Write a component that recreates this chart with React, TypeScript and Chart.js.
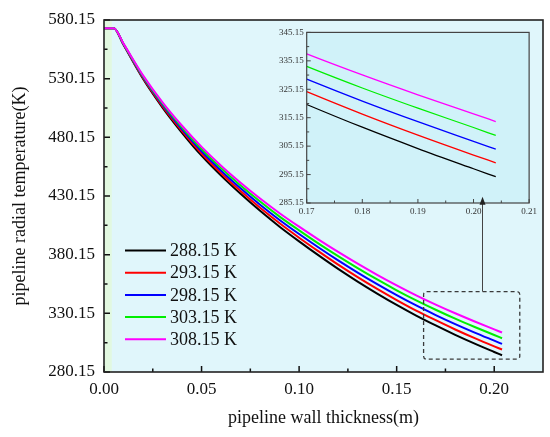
import React, { useEffect, useRef } from 'react';
import { Chart, registerables } from 'chart.js';

Chart.register(...registerables);

// ---- data ----
const thickness = [0, 0.005, 0.01, 0.02, 0.03, 0.04, 0.05, 0.06, 0.07, 0.08, 0.09, 0.1, 0.11, 0.12, 0.13, 0.14, 0.15, 0.16, 0.17, 0.18, 0.19, 0.2, 0.204];
const temp288 = [573.15, 573.15, 559.0, 530.0, 505.5, 484.0, 464.5, 447.5, 432.0, 417.5, 404.0, 391.5, 379.5, 368.0, 357.2, 347.0, 337.3, 328.2, 319.8, 311.8, 304.3, 297.2, 294.4];
const temp293 = [573.15, 573.15, 559.25, 530.75, 506.6, 485.5, 466.4, 449.6, 434.4, 420.1, 406.9, 394.6, 382.9, 371.6, 361.0, 351.0, 341.5, 332.5, 324.3, 316.4, 309.0, 302.0, 299.3];
const temp298 = [573.15, 573.15, 559.5, 531.5, 507.75, 487.0, 468.25, 451.75, 436.75, 422.75, 409.75, 397.75, 386.25, 375.25, 364.85, 355.0, 345.65, 336.85, 328.7, 321.0, 313.75, 306.85, 304.1];
const temp303 = [573.15, 573.15, 559.75, 532.25, 508.9, 488.5, 470.1, 453.9, 439.1, 425.4, 412.6, 400.9, 389.6, 378.9, 368.7, 359.0, 349.8, 341.2, 333.2, 325.6, 318.5, 311.7, 308.9];
const temp308 = [573.15, 573.15, 560.0, 533.0, 510.0, 490.0, 472.0, 456.0, 441.5, 428.0, 415.5, 404.0, 393.0, 382.5, 372.5, 363.0, 354.0, 345.5, 337.6, 330.2, 323.2, 316.5, 313.8];
const seriesLabels = ['288.15 K', '293.15 K', '298.15 K', '303.15 K', '308.15 K'];
const seriesValues = [temp288, temp293, temp298, temp303, temp308];

// axes ranges / ticks
const mainX = { min: 0, max: 0.225, step: 0.05 };
const mainY = { min: 280.15, max: 580.15, step: 50 };
const insetX = { min: 0.17, max: 0.21, step: 0.01 };
const insetY = { min: 285.15, max: 345.15, step: 10 };
const innerWallEnd = 0.004; // green strip
const zoomBoxX = [0.1638, 0.2131];
const zoomBoxT = [291.1, 348.7];
const arrowX = 0.194;
const arrowTipT = 429.5;

// ---- layout / styles ----
const INSET_LEFT = 268;
const INSET_TOP = 24;
const COLORS = ['#000000', '#ff0000', '#0000ff', '#00ee00', '#ff00ff'];
const FONT = "'Liberation Serif', 'Times New Roman', serif";

function makeDatasets(width: number) {
  return seriesValues.map((vals, i) => ({
    label: seriesLabels[i],
    data: thickness.map((x, j) => ({ x, y: vals[j] })),
    borderColor: COLORS[i],
    backgroundColor: COLORS[i],
    borderWidth: width,
    pointRadius: 0,
    cubicInterpolationMode: 'monotone' as const,
    order: seriesValues.length - i,
  }));
}

function drawInwardTicks(chart: any, majorLen: number, minorLen: number, color: string, lw: number) {
  const ctx = chart.ctx;
  const { left, bottom } = chart.chartArea;
  ctx.save();
  ctx.strokeStyle = color;
  ctx.lineWidth = lw;
  const xs = chart.scales.x;
  const ys = chart.scales.y;
  const xt = xs.ticks.map((t: any) => t.value);
  const yt = ys.ticks.map((t: any) => t.value);
  const minor = (arr: number[], max: number) => {
    const out: number[] = [];
    for (let i = 0; i < arr.length; i++) {
      const step = i + 1 < arr.length ? arr[i + 1] - arr[i] : arr[i] - arr[i - 1];
      const m = arr[i] + step / 2;
      if (m < max - 1e-9) out.push(m);
    }
    return out;
  };
  ctx.beginPath();
  xt.forEach((v: number) => {
    const p = xs.getPixelForValue(v);
    ctx.moveTo(p, bottom);
    ctx.lineTo(p, bottom - majorLen);
  });
  minor(xt, xs.max).forEach((v) => {
    const p = xs.getPixelForValue(v);
    ctx.moveTo(p, bottom);
    ctx.lineTo(p, bottom - minorLen);
  });
  yt.forEach((v: number) => {
    const p = ys.getPixelForValue(v);
    ctx.moveTo(left, p);
    ctx.lineTo(left + majorLen, p);
  });
  minor(yt, ys.max).forEach((v) => {
    const p = ys.getPixelForValue(v);
    ctx.moveTo(left, p);
    ctx.lineTo(left + minorLen, p);
  });
  ctx.stroke();
  ctx.restore();
}

const mainPlugin = {
  id: 'mainDecor',
  beforeDraw(chart: any) {
    const ctx = chart.ctx;
    const { left, right, top, bottom } = chart.chartArea;
    ctx.save();
    ctx.fillStyle = '#e0f6fb';
    ctx.fillRect(left, top, right - left, bottom - top);
    const gx = chart.scales.x.getPixelForValue(innerWallEnd);
    ctx.fillStyle = '#e2f8e0';
    ctx.fillRect(left, top, gx - left, bottom - top);
    ctx.restore();
  },
  afterDatasetsDraw(chart: any) {
    const ctx = chart.ctx;
    const xs = chart.scales.x;
    const ys = chart.scales.y;
    // zoom box
    const bx0 = xs.getPixelForValue(zoomBoxX[0]);
    const bx1 = xs.getPixelForValue(zoomBoxX[1]);
    const by0 = ys.getPixelForValue(zoomBoxT[1]);
    const by1 = ys.getPixelForValue(zoomBoxT[0]);
    ctx.save();
    ctx.strokeStyle = '#3a3a3a';
    ctx.lineWidth = 1.3;
    ctx.setLineDash([4, 3]);
    ctx.beginPath();
    if (ctx.roundRect) ctx.roundRect(bx0, by0, bx1 - bx0, by1 - by0, 3);
    else ctx.rect(bx0, by0, bx1 - bx0, by1 - by0);
    ctx.stroke();
    ctx.setLineDash([]);
    // arrow shaft (the head is drawn over the inset)
    const ax = xs.getPixelForValue(arrowX);
    const ay = ys.getPixelForValue(arrowTipT);
    ctx.strokeStyle = '#444';
    ctx.lineWidth = 1;
    ctx.beginPath();
    ctx.moveTo(ax, by0);
    ctx.lineTo(ax, ay + 6);
    ctx.stroke();
    // legend
    const { left } = chart.chartArea;
    ctx.font = `18px ${FONT}`;
    ctx.textBaseline = 'middle';
    ctx.textAlign = 'left';
    chart.data.datasets.forEach((ds: any, i: number) => {
      const y = 250.5 + i * 22.2;
      ctx.strokeStyle = ds.borderColor;
      ctx.lineWidth = 2;
      ctx.beginPath();
      ctx.moveTo(left + 21, y);
      ctx.lineTo(left + 62, y);
      ctx.stroke();
      ctx.fillStyle = '#111';
      ctx.fillText(ds.label, left + 66, y + 1);
    });
    ctx.restore();
  },
  afterDraw(chart: any) {
    drawInwardTicks(chart, 6, 3.5, '#111', 1.5);
    const ctx = chart.ctx;
    const { left, right, top, bottom } = chart.chartArea;
    ctx.save();
    ctx.strokeStyle = '#222';
    ctx.lineWidth = 1.6;
    ctx.strokeRect(left, top, right - left, bottom - top);
    ctx.restore();
  },
};

function makeInsetPlugin(getMain: () => any) {
  return {
    id: 'insetDecor',
    beforeDraw(chart: any) {
      const ctx = chart.ctx;
      const { left, right, top, bottom } = chart.chartArea;
      ctx.save();
      ctx.fillStyle = '#d0f2f9';
      ctx.fillRect(left, top, right - left, bottom - top);
      ctx.restore();
    },
    afterDraw(chart: any) {
      drawInwardTicks(chart, 4, 2.5, '#444', 1);
      const ctx = chart.ctx;
      const { left, right, top, bottom } = chart.chartArea;
      ctx.save();
      ctx.strokeStyle = '#444';
      ctx.lineWidth = 1.2;
      ctx.strokeRect(left, top, right - left, bottom - top);
      const main = getMain();
      if (main && main.scales && main.scales.x) {
        const ax = main.scales.x.getPixelForValue(arrowX) - INSET_LEFT;
        const ay = main.scales.y.getPixelForValue(arrowTipT) - INSET_TOP;
        ctx.strokeStyle = '#444';
        ctx.lineWidth = 1;
        ctx.beginPath();
        ctx.moveTo(ax, chart.height);
        ctx.lineTo(ax, ay + 6);
        ctx.stroke();
        ctx.fillStyle = '#222';
        ctx.beginPath();
        ctx.moveTo(ax, ay);
        ctx.lineTo(ax - 3, ay + 8);
        ctx.lineTo(ax + 3, ay + 8);
        ctx.closePath();
        ctx.fill();
      }
      ctx.restore();
    },
  };
}

function fmt2(v: any) {
  return Number(v).toFixed(2);
}

export default function App() {
  const mainRef = useRef<HTMLCanvasElement>(null);
  const insetRef = useRef<HTMLCanvasElement>(null);

  useEffect(() => {
    if (!mainRef.current || !insetRef.current) return;
    const main = new Chart(mainRef.current, {
      type: 'line',
      data: { datasets: makeDatasets(2) as any },
      plugins: [mainPlugin],
      options: {
        animation: false,
        responsive: true,
        maintainAspectRatio: false,
        layout: { padding: { left: 0, right: 7, top: 20, bottom: 0 } },
        plugins: { legend: { display: false }, tooltip: { enabled: false } },
        scales: {
          x: {
            type: 'linear',
            min: mainX.min,
            max: mainX.max,
            grid: { display: false, drawTicks: false },
            border: { display: false },
            ticks: {
              stepSize: mainX.step,
              includeBounds: false,
              padding: 7,
              color: '#111',
              font: { family: FONT, size: 17 },
              maxRotation: 0,
              callback: (v: any) => fmt2(v),
            },
            title: {
              display: true,
              text: 'pipeline wall thickness(m)',
              color: '#111',
              font: { family: FONT, size: 18 },
              padding: { top: 0, bottom: 8 },
            },
            afterFit: (s: any) => {
              s.height = 65;
            },
          },
          y: {
            type: 'linear',
            min: mainY.min,
            max: mainY.max,
            grid: { display: false, drawTicks: false },
            border: { display: false },
            ticks: {
              stepSize: mainY.step,
              padding: 9,
              color: '#111',
              font: { family: FONT, size: 17 },
              callback: (v: any) => fmt2(v),
            },
            title: {
              display: true,
              text: 'pipeline radial temperature(K)',
              color: '#111',
              font: { family: FONT, size: 18 },
              padding: { top: 9, bottom: 0 },
            },
            afterFit: (s: any) => {
              s.width = 104;
            },
          },
        },
      } as any,
    });

    const inset = new Chart(insetRef.current, {
      type: 'line',
      data: { datasets: makeDatasets(1.3) as any },
      plugins: [makeInsetPlugin(() => main)],
      options: {
        animation: false,
        responsive: true,
        maintainAspectRatio: false,
        layout: { padding: { left: 0, right: 7, top: 6, bottom: 0 } },
        plugins: { legend: { display: false }, tooltip: { enabled: false } },
        scales: {
          x: {
            type: 'linear',
            min: insetX.min,
            max: insetX.max,
            grid: { display: false, drawTicks: false },
            border: { display: false },
            ticks: {
              stepSize: insetX.step,
              padding: 3,
              color: '#333',
              font: { family: FONT, size: 9 },
              maxRotation: 0,
              callback: (v: any) => fmt2(v),
            },
            afterFit: (s: any) => {
              s.height = 15;
            },
          },
          y: {
            type: 'linear',
            min: insetY.min,
            max: insetY.max,
            grid: { display: false, drawTicks: false },
            border: { display: false },
            ticks: {
              stepSize: insetY.step,
              padding: 3,
              color: '#333',
              font: { family: FONT, size: 9 },
              callback: (v: any) => fmt2(v),
            },
            afterFit: (s: any) => {
              s.width = 38.7;
            },
          },
        },
      } as any,
    });

    return () => {
      main.destroy();
      inset.destroy();
    };
  }, []);

  return (
    <div style={{ position: 'absolute', left: 0, top: 0, width: 550, height: 437, background: '#fff' }}>
      <div style={{ position: 'absolute', left: 0, top: 0, width: 550, height: 437 }}>
        <canvas ref={mainRef} />
      </div>
      <div style={{ position: 'absolute', left: INSET_LEFT, top: INSET_TOP, width: 272, height: 194 }}>
        <canvas ref={insetRef} />
      </div>
    </div>
  );
}
